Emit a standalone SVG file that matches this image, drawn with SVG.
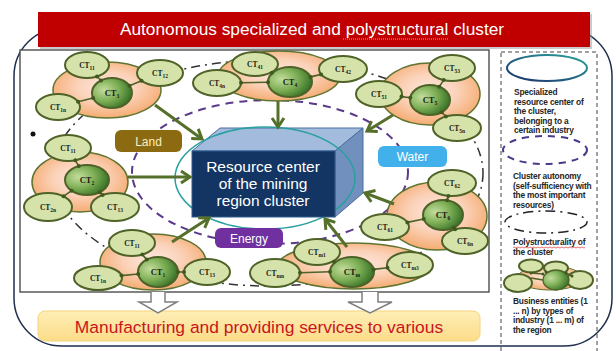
<svg xmlns="http://www.w3.org/2000/svg" width="616" height="351" viewBox="0 0 616 351">
  <defs>
    <radialGradient id="orbFill" cx="50%" cy="45%" r="55%">
      <stop offset="0" stop-color="#fde8df"/>
      <stop offset="0.5" stop-color="#fbd2b9"/>
      <stop offset="1" stop-color="#f5ac72"/>
    </radialGradient>
    <radialGradient id="coreFill" cx="30%" cy="40%" r="75%">
      <stop offset="0" stop-color="#c3dd9c"/>
      <stop offset="0.5" stop-color="#7dae55"/>
      <stop offset="1" stop-color="#2f6b22"/>
    </radialGradient>
    <linearGradient id="yellowFill" x1="0" y1="0" x2="0" y2="1">
      <stop offset="0" stop-color="#feeeb6"/>
      <stop offset="1" stop-color="#fcdc88"/>
    </linearGradient>
    <linearGradient id="tealStroke" x1="0" y1="1" x2="1" y2="0">
      <stop offset="0" stop-color="#1c2f6e"/>
      <stop offset="1" stop-color="#2aa39a"/>
    </linearGradient>
    <marker id="chev" markerUnits="userSpaceOnUse" markerWidth="16" markerHeight="16" refX="11" refY="7" orient="auto" viewBox="0 0 16 14">
      <path d="M2,1 L11,7 L2,13" fill="none" stroke="#55702a" stroke-width="3" stroke-linejoin="miter"/>
    </marker>
    <style>
      .orb { fill: url(#orbFill); stroke: #5f7430; stroke-width: 1.5; }
      .sat { fill: #d5e3ab; stroke: #4f6228; stroke-width: 2; }
      .core { fill: url(#coreFill); stroke: #4f6228; stroke-width: 2; }
      .link { stroke: #4f6228; stroke-width: 1.6; fill: none; }
      .dot { fill: #3f5a1e; }
      .lbl { font-family: "Liberation Serif", "DejaVu Serif", serif; font-weight: bold; font-size: 7.5px; fill: #1a1a1a; text-anchor: middle; }
      .lbl-c { font-size: 8.5px; }
      .sub { font-size: 5.5px; }
      .arrow { stroke: #55702a; stroke-width: 3; fill: none; marker-end: url(#chev); }
      .tag { font-family: "Liberation Sans", Arial, sans-serif; font-size: 12px; text-anchor: middle; }
      .legend { font-family: "Liberation Sans", Arial, sans-serif; font-weight: bold; font-size: 8.4px; fill: #262626; letter-spacing: -0.2px; }
      .hollow { fill: #ffffff; stroke: #7f7f7f; stroke-width: 1.5; }
    </style>
  </defs>

  <rect width="616" height="351" fill="#ffffff"/>

  <!-- outer cluster frame -->
  <rect x="14" y="28" width="598" height="318" rx="48" ry="48" fill="none" stroke="#1f2f4f" stroke-width="1.5"/>

  <!-- title bar -->
  <g id="title">
    <rect x="40" y="14" width="552" height="35" fill="#8a8a8a" opacity="0.45"/>
    <rect x="38" y="12" width="552" height="35" fill="#c00000"/>
    <text x="312" y="35" font-family="Liberation Sans, Arial, sans-serif" font-size="17.3" fill="#ffffff" text-anchor="middle">Autonomous specialized and polystructural cluster</text>
    <path d="M343,39 H448" stroke="#f4b6b6" stroke-width="0.8" stroke-dasharray="1 1"/>
  </g>

  <!-- inner frame -->
  <rect x="20" y="50" width="469" height="242" fill="#ffffff" stroke="#404040" stroke-width="1.3"/>

  <!-- structural rings -->
  <ellipse id="poly-ring" cx="268" cy="173" rx="215" ry="113" fill="none" stroke="#333333" stroke-width="1.5" stroke-dasharray="9 5 2 5"/>
  <ellipse id="autonomy-ring" cx="270" cy="172" rx="138" ry="72" fill="none" stroke="#5b3a8c" stroke-width="2" stroke-dasharray="8 6"/>

  <!-- resource center cube -->
  <g id="resource-center">
    <polygon points="192,151 220,128 363,128 335,151" fill="#a3bcdd" stroke="#4a6fa0" stroke-width="1"/>
    <polygon points="335,151 363,128 363,193 335,217" fill="#7190bd" stroke="#4a6fa0" stroke-width="1"/>
    <ellipse cx="265" cy="178" rx="90" ry="51" fill="none" stroke="#2aa0a0" stroke-width="1.5"/>
    <rect x="192" y="151" width="143" height="66" fill="#133563" stroke="#2f5a8f" stroke-width="1"/>
    <g font-family="Liberation Sans, Arial, sans-serif" font-size="15.5" fill="#ffffff" text-anchor="middle">
      <text x="263" y="172">Resource center</text>
      <text x="263" y="189">of the mining</text>
      <text x="263" y="206">region cluster</text>
    </g>
  </g>

  <!-- cluster CT3 -->
  <g id="cluster-ct3">
    <ellipse class="orb" cx="107" cy="90" rx="54" ry="28"/>
    <ellipse class="sat" cx="87" cy="65" rx="22" ry="13"/>
    <ellipse class="sat" cx="160" cy="73" rx="23" ry="13"/>
    <ellipse class="sat" cx="58" cy="107" rx="22" ry="13"/>
    <ellipse class="core" cx="112" cy="93" rx="20" ry="15"/>
    <path class="link" d="M101,80.5 L97,76.5 M129.5,85.7 L141.5,80.7 M93.1,97.9 L78.1,101.8"/>
    <circle class="dot" cx="97" cy="76.5" r="2"/><circle class="dot" cx="101" cy="80.5" r="2"/>
    <circle class="dot" cx="141.5" cy="80.7" r="2"/><circle class="dot" cx="129.5" cy="85.7" r="2"/>
    <circle class="dot" cx="78.1" cy="101.8" r="2"/><circle class="dot" cx="93.1" cy="97.9" r="2"/>
    <text class="lbl" x="87" y="68">CT<tspan class="sub" dy="2">11</tspan></text>
    <text class="lbl" x="160" y="76">CT<tspan class="sub" dy="2">12</tspan></text>
    <text class="lbl" x="58" y="110">CT<tspan class="sub" dy="2">1n</tspan></text>
    <text class="lbl lbl-c" x="112" y="96">CT<tspan class="sub" dy="2">3</tspan></text>
  </g>

  <!-- cluster CT4 -->
  <g id="cluster-ct4">
    <ellipse class="orb" cx="279" cy="76" rx="61" ry="25"/>
    <ellipse class="sat" cx="255" cy="64" rx="23" ry="12"/>
    <ellipse class="sat" cx="343" cy="69" rx="24" ry="13"/>
    <ellipse class="sat" cx="217" cy="83" rx="24" ry="13"/>
    <ellipse class="core" cx="290" cy="82" rx="22" ry="15"/>
    <path class="link" d="M310.7,76.9 L321.1,74.4 M268,82.3 L241,82.7"/>
    <circle class="dot" cx="272" cy="72.7" r="2"/>
    <circle class="dot" cx="321.1" cy="74.4" r="2"/><circle class="dot" cx="310.7" cy="76.9" r="2"/>
    <circle class="dot" cx="241" cy="82.7" r="2"/><circle class="dot" cx="268" cy="82.3" r="2"/>
    <text class="lbl" x="255" y="67">CT<tspan class="sub" dy="2">41</tspan></text>
    <text class="lbl" x="343" y="72">CT<tspan class="sub" dy="2">42</tspan></text>
    <text class="lbl" x="217" y="86">CT<tspan class="sub" dy="2">4n</tspan></text>
    <text class="lbl lbl-c" x="290" y="85">CT<tspan class="sub" dy="2">4</tspan></text>
  </g>

  <!-- cluster CT5 -->
  <g id="cluster-ct5">
    <ellipse class="orb" cx="430" cy="94" rx="50" ry="31"/>
    <ellipse class="sat" cx="452" cy="68" rx="23" ry="13"/>
    <ellipse class="sat" cx="379" cy="94" rx="23" ry="13"/>
    <ellipse class="sat" cx="457" cy="128" rx="24" ry="13"/>
    <ellipse class="core" cx="430" cy="100" rx="20" ry="15"/>
    <path class="link" d="M439.2,86.7 L443.7,80.1 M410.3,97.7 L401.5,96.6 M441.7,112.2 L445.9,116.5"/>
    <circle class="dot" cx="443.7" cy="80.1" r="2"/><circle class="dot" cx="439.2" cy="86.7" r="2"/>
    <circle class="dot" cx="401.5" cy="96.6" r="2"/><circle class="dot" cx="410.3" cy="97.7" r="2"/>
    <circle class="dot" cx="445.9" cy="116.5" r="2"/><circle class="dot" cx="441.7" cy="112.2" r="2"/>
    <text class="lbl" x="452" y="71">CT<tspan class="sub" dy="2">53</tspan></text>
    <text class="lbl" x="379" y="97">CT<tspan class="sub" dy="2">51</tspan></text>
    <text class="lbl" x="457" y="131">CT<tspan class="sub" dy="2">5n</tspan></text>
    <text class="lbl lbl-c" x="430" y="103">CT<tspan class="sub" dy="2">5</tspan></text>
  </g>

  <!-- cluster CT2 -->
  <g id="cluster-ct2">
    <ellipse class="orb" cx="80" cy="182" rx="48" ry="30"/>
    <ellipse class="sat" cx="68" cy="148" rx="23" ry="13"/>
    <ellipse class="sat" cx="48" cy="207" rx="24" ry="14"/>
    <ellipse class="sat" cx="115" cy="207" rx="24" ry="14"/>
    <ellipse class="core" cx="87" cy="180" rx="22" ry="15"/>
    <path class="link" d="M78.8,166.1 L75.3,160.3 M71.6,190.7 L63.5,196.3 M99.7,192.2 L102.6,195"/>
    <circle class="dot" cx="75.3" cy="160.3" r="2"/><circle class="dot" cx="78.8" cy="166.1" r="2"/>
    <circle class="dot" cx="63.5" cy="196.3" r="2"/><circle class="dot" cx="71.6" cy="190.7" r="2"/>
    <circle class="dot" cx="102.6" cy="195" r="2"/><circle class="dot" cx="99.7" cy="192.2" r="2"/>
    <text class="lbl" x="68" y="151">CT<tspan class="sub" dy="2">11</tspan></text>
    <text class="lbl" x="48" y="210">CT<tspan class="sub" dy="2">2n</tspan></text>
    <text class="lbl" x="115" y="210">CT<tspan class="sub" dy="2">13</tspan></text>
    <text class="lbl lbl-c" x="87" y="183">CT<tspan class="sub" dy="2">2</tspan></text>
  </g>

  <!-- cluster CT1 -->
  <g id="cluster-ct1">
    <ellipse class="orb" cx="153" cy="262" rx="53" ry="28"/>
    <ellipse class="sat" cx="132" cy="243" rx="23" ry="13"/>
    <ellipse class="sat" cx="98" cy="278" rx="24" ry="12"/>
    <ellipse class="sat" cx="207" cy="272" rx="23" ry="13"/>
    <ellipse class="core" cx="158" cy="272" rx="20" ry="15"/>
    <path class="link" d="M146.8,259.6 L142.4,254.6 M138.2,274 L121.5,275.6 M178,272 L184,272"/>
    <circle class="dot" cx="142.4" cy="254.6" r="2"/><circle class="dot" cx="146.8" cy="259.6" r="2"/>
    <circle class="dot" cx="121.5" cy="275.6" r="2"/><circle class="dot" cx="138.2" cy="274" r="2"/>
    <circle class="dot" cx="184" cy="272" r="2"/><circle class="dot" cx="178" cy="272" r="2"/>
    <text class="lbl" x="132" y="246">CT<tspan class="sub" dy="2">11</tspan></text>
    <text class="lbl" x="98" y="281">CT<tspan class="sub" dy="2">1n</tspan></text>
    <text class="lbl" x="207" y="275">CT<tspan class="sub" dy="2">13</tspan></text>
    <text class="lbl lbl-c" x="158" y="275">CT<tspan class="sub" dy="2">1</tspan></text>
  </g>

  <!-- cluster CTm -->
  <g id="cluster-ctm">
    <ellipse class="orb" cx="354" cy="266" rx="76" ry="23"/>
    <ellipse class="sat" cx="317" cy="252" rx="23" ry="13"/>
    <ellipse class="sat" cx="275" cy="273" rx="25" ry="14"/>
    <ellipse class="sat" cx="410" cy="265" rx="23" ry="13"/>
    <ellipse class="core" cx="352" cy="272" rx="22" ry="15"/>
    <path class="link" d="M330,271.7 L300,272.7 M373.7,269.4 L387.5,267.7"/>
    <circle class="dot" cx="334" cy="261.8" r="2"/>
    <circle class="dot" cx="300" cy="272.7" r="2"/><circle class="dot" cx="330" cy="271.7" r="2"/>
    <circle class="dot" cx="387.5" cy="267.7" r="2"/><circle class="dot" cx="373.7" cy="269.4" r="2"/>
    <text class="lbl" x="317" y="255">CT<tspan class="sub" dy="2">m1</tspan></text>
    <text class="lbl" x="275" y="276">CT<tspan class="sub" dy="2">mn</tspan></text>
    <text class="lbl" x="410" y="268">CT<tspan class="sub" dy="2">m3</tspan></text>
    <text class="lbl lbl-c" x="352" y="275">CT<tspan class="sub" dy="2">m</tspan></text>
  </g>

  <!-- cluster CT6 -->
  <g id="cluster-ct6">
    <ellipse class="orb" cx="437" cy="216" rx="50" ry="34"/>
    <ellipse class="sat" cx="452" cy="183" rx="24" ry="13"/>
    <ellipse class="sat" cx="385" cy="227" rx="24" ry="13"/>
    <ellipse class="sat" cx="465" cy="241" rx="23" ry="13"/>
    <ellipse class="core" cx="443" cy="215" rx="20" ry="15"/>
    <path class="link" d="M447.1,200.3 L448.4,195.9 M423.7,219 L407.4,222.4 M453.7,227.7 L455.1,229.3"/>
    <circle class="dot" cx="448.4" cy="195.9" r="2"/><circle class="dot" cx="447.1" cy="200.3" r="2"/>
    <circle class="dot" cx="407.4" cy="222.4" r="2"/><circle class="dot" cx="423.7" cy="219" r="2"/>
    <circle class="dot" cx="455.1" cy="229.3" r="2"/><circle class="dot" cx="453.7" cy="227.7" r="2"/>
    <text class="lbl" x="452" y="186">CT<tspan class="sub" dy="2">62</tspan></text>
    <text class="lbl" x="385" y="230">CT<tspan class="sub" dy="2">61</tspan></text>
    <text class="lbl" x="465" y="244">CT<tspan class="sub" dy="2">6n</tspan></text>
    <text class="lbl lbl-c" x="443" y="218">CT<tspan class="sub" dy="2">6</tspan></text>
  </g>

  <!-- connectors: flows from each cluster into the resource center -->
  <g id="connectors">
    <line class="arrow" x1="155" y1="105" x2="202" y2="139"/>
    <line class="arrow" x1="278" y1="101" x2="278" y2="127"/>
    <line class="arrow" x1="393" y1="115" x2="367" y2="131"/>
    <line class="arrow" x1="128" y1="177" x2="190" y2="177"/>
    <line class="arrow" x1="172" y1="242" x2="209" y2="218"/>
    <line class="arrow" x1="347" y1="247" x2="325" y2="219"/>
    <line class="arrow" x1="394" y1="204" x2="365" y2="193"/>
  </g>

  <!-- resource tags -->
  <g id="tag-land">
    <rect x="115" y="130" width="67" height="22" rx="6" fill="#8c6a12"/>
    <text class="tag" x="148.5" y="145.5" fill="#fbeec0">Land</text>
  </g>
  <g id="tag-water">
    <rect x="378" y="146" width="69" height="21" rx="6" fill="#42b0ea"/>
    <text class="tag" x="412.5" y="161" fill="#ffffff">Water</text>
  </g>
  <g id="tag-energy">
    <rect x="215" y="228" width="68" height="20" rx="6" fill="#7030a0"/>
    <text class="tag" x="249" y="242.5" fill="#ffffff">Energy</text>
  </g>

  <circle cx="33" cy="134" r="2.5" fill="#111111"/>

  <!-- output band -->
  <g id="output">
    <rect x="38" y="311" width="442" height="30" rx="7" fill="url(#yellowFill)" stroke="#f3d47c" stroke-width="1"/>
    <text x="259" y="333" font-family="Liberation Sans, Arial, sans-serif" font-size="17.4" fill="#c8161d" text-anchor="middle">Manufacturing and providing services to various</text>
    <path class="hollow" d="M151,292 V302 H139 L158,313 L177,302 H165 V292"/>
    <path class="hollow" d="M362,292 V302 H348 L370,313 L392,302 H378 V292"/>
  </g>

  <!-- legend -->
  <g id="legend">
    <rect x="501" y="52" width="96" height="302" fill="none" stroke="#444444" stroke-width="1" stroke-dasharray="4 3"/>
    <ellipse cx="547" cy="68" rx="40" ry="13" fill="none" stroke="url(#tealStroke)" stroke-width="2"/>
    <text class="legend" x="514" y="95">Specialized</text>
    <text class="legend" x="514" y="104.5">resource center of</text>
    <text class="legend" x="514" y="114">the cluster,</text>
    <text class="legend" x="514" y="123.5">belonging to a</text>
    <text class="legend" x="514" y="133">certain industry</text>
    <ellipse cx="545" cy="150" rx="42" ry="14" fill="none" stroke="#4b3a8a" stroke-width="2" stroke-dasharray="7 6"/>
    <text class="legend" x="513" y="179">Cluster autonomy</text>
    <text class="legend" x="513" y="188.5">(self-sufficiency with</text>
    <text class="legend" x="513" y="198">the most important</text>
    <text class="legend" x="513" y="207.5">resources)</text>
    <ellipse cx="546" cy="222" rx="41" ry="11" fill="none" stroke="#222222" stroke-width="1.5" stroke-dasharray="10 5 2 5"/>
    <text class="legend" x="513" y="245">Polystructurality of</text>
    <path d="M513,247.5 q1,-1 2,0 t2,0 t2,0 t2,0 t2,0 t2,0 t2,0 t2,0 t2,0 t2,0 t2,0 t2,0 t2,0 t2,0 t2,0 t2,0 t2,0 t2,0 t2,0 t2,0 t2,0 t2,0 t2,0 t2,0 t2,0 t2,0 t2,0 t2,0 t2,0 t2,0 t2,0 t2,0 t2,0 t2,0 t2,0 t2,0" fill="none" stroke="#e03030" stroke-width="0.7"/>
    <text class="legend" x="513" y="254.5">the cluster</text>
    <g id="legend-cluster">
      <ellipse cx="550" cy="278" rx="33" ry="12" fill="url(#orbFill)" stroke="#5f7430" stroke-width="1"/>
      <ellipse cx="531" cy="266" rx="12" ry="6.5" class="sat" stroke-width="1.3"/>
      <ellipse cx="556" cy="268" rx="12" ry="6.5" class="sat" stroke-width="1.3"/>
      <ellipse cx="518" cy="283" rx="14" ry="9" class="sat" stroke-width="1.3"/>
      <ellipse cx="580" cy="280" rx="13" ry="9" class="sat" stroke-width="1.3"/>
      <ellipse cx="556" cy="280" rx="13" ry="10" fill="url(#coreFill)" stroke="#4f6228" stroke-width="1.3"/>
      <path d="M531,273 L543,274 M531,278 L543,280 M566,273 L572,276" class="link" stroke-width="1"/>
      <circle class="dot" cx="531" cy="273" r="1.5"/><circle class="dot" cx="543" cy="274" r="1.5"/>
      <circle class="dot" cx="566" cy="273" r="1.5"/><circle class="dot" cx="572" cy="276" r="1.5"/>
      <circle class="dot" cx="546" cy="272" r="1.5"/>
    </g>
    <text class="legend" x="513" y="304">Business entities (1</text>
    <text class="legend" x="513" y="313.5">... n) by types of</text>
    <text class="legend" x="513" y="323">industry (1 ... m) of</text>
    <text class="legend" x="513" y="332.5">the region</text>
  </g>
</svg>
